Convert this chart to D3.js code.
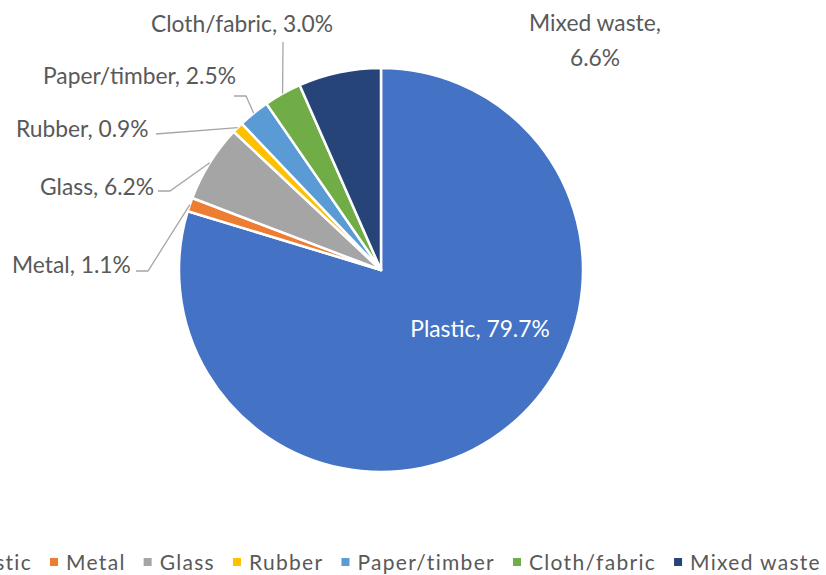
<!DOCTYPE html>
<html>
<head>
<meta charset="utf-8">
<script src="https://cdn.jsdelivr.net/npm/d3@7"></script>
<style>
  html, body { margin: 0; padding: 0; background: #fff; }
  svg { display: block; }
  text { font-family: "Lato", "Open Sans", sans-serif; }
</style>
</head>
<body>
<svg id="chart" width="826" height="575"></svg>
<script>
// ---- data ----
const categories = ["Plastic", "Metal", "Glass", "Rubber", "Paper/timber", "Cloth/fabric", "Mixed waste"];
const shares = [79.7, 1.1, 6.2, 0.9, 2.5, 3.0, 6.6];
const colors = ["#4472C4", "#ED7D31", "#A5A5A5", "#FFC000", "#5B9BD5", "#70AD47", "#264478"];

// ---- layout (styling only) ----
const cx = 381, cy = 270, R = 202;
const labelLayout = [
  { x: 480, y: 337, anchor: "middle", fill: "#ffffff", leader: null },
  { x: 12, y: 273, anchor: "start", leader: { start: [136, 271], elbow: [148, 271] } },
  { x: 40, y: 195, anchor: "start", leader: { start: [158, 191], elbow: [170, 191] } },
  { x: 16, y: 137, anchor: "start", leader: { start: [156, 134], elbow: null } },
  { x: 43, y: 84, anchor: "start", leader: { start: [234, 96], elbow: [246, 96] } },
  { x: 242, y: 32, anchor: "middle", leader: { start: [283, 42], elbow: null } },
  { x: 595, y: 31, anchor: "middle", twoLine: true, leader: null }
];
const labelFont = 22.8;

const svg = d3.select("#chart");
const g = svg.append("g").attr("transform", `translate(${cx},${cy})`);

const data = categories.map((c, i) => ({ name: c, value: shares[i], color: colors[i], i }));
const pie = d3.pie().sort(null).value(d => d.value);
const arcs = pie(data);
const arc = d3.arc().innerRadius(0).outerRadius(R);

g.selectAll("path.slice")
  .data(arcs)
  .join("path")
  .attr("class", "slice")
  .attr("d", arc)
  .attr("fill", d => d.data.color)
  .attr("stroke", "#ffffff")
  .attr("stroke-width", 2.5)
  .attr("stroke-linejoin", "round");

// leader lines
const edgePoint = d => {
  const a = (d.startAngle + d.endAngle) / 2;
  return [cx + R * Math.sin(a), cy - R * Math.cos(a)];
};
const lineGen = d3.line();
arcs.forEach((d, i) => {
  const L = labelLayout[i];
  if (!L.leader) return;
  const pts = [L.leader.start];
  if (L.leader.elbow) pts.push(L.leader.elbow);
  pts.push(edgePoint(d));
  svg.append("path")
    .attr("d", lineGen(pts))
    .attr("fill", "none")
    .attr("stroke", "#a6a6a6")
    .attr("stroke-width", 1.3);
});

// labels
const fmt = d3.format(".1f");
arcs.forEach((d, i) => {
  const L = labelLayout[i];
  const t = svg.append("text")
    .attr("x", L.x).attr("y", L.y)
    .attr("text-anchor", L.anchor)
    .attr("font-size", labelFont)
    .attr("fill", L.fill || "#595959");
  if (L.twoLine) {
    t.append("tspan").attr("x", L.x).text(d.data.name + ",");
    t.append("tspan").attr("x", L.x).attr("dy", 35).text(fmt(d.data.value) + "%");
  } else {
    t.text(d.data.name + ", " + fmt(d.data.value) + "%");
  }
});

// legend — right end aligned to the reference's right end (left end is clipped, as in the source)
const legend = svg.append("g");
const legendY = 570;
const mk = 8, gapMarker = 8, gapItem = 18;
const items = legend.selectAll("g.item").data(data).join("g").attr("class", "item");
items.append("rect")
  .attr("width", mk).attr("height", mk)
  .attr("y", legendY - 12)
  .attr("fill", d => d.color);
items.append("text")
  .attr("y", legendY)
  .attr("font-size", 21)
  .attr("letter-spacing", 1.3)
  .attr("fill", "#595959")
  .text(d => d.name);
const widths = [];
items.each(function() { widths.push(d3.select(this).select("text").node().getComputedTextLength()); });
let total = 0;
widths.forEach((w, i) => { total += mk + gapMarker + w + (i < widths.length - 1 ? gapItem : 0); });
let x = 821 - total;
items.each(function(d, i) {
  const s = d3.select(this);
  s.select("rect").attr("x", x);
  s.select("text").attr("x", x + mk + gapMarker);
  x += mk + gapMarker + widths[i] + gapItem;
});
</script>
</body>
</html>
